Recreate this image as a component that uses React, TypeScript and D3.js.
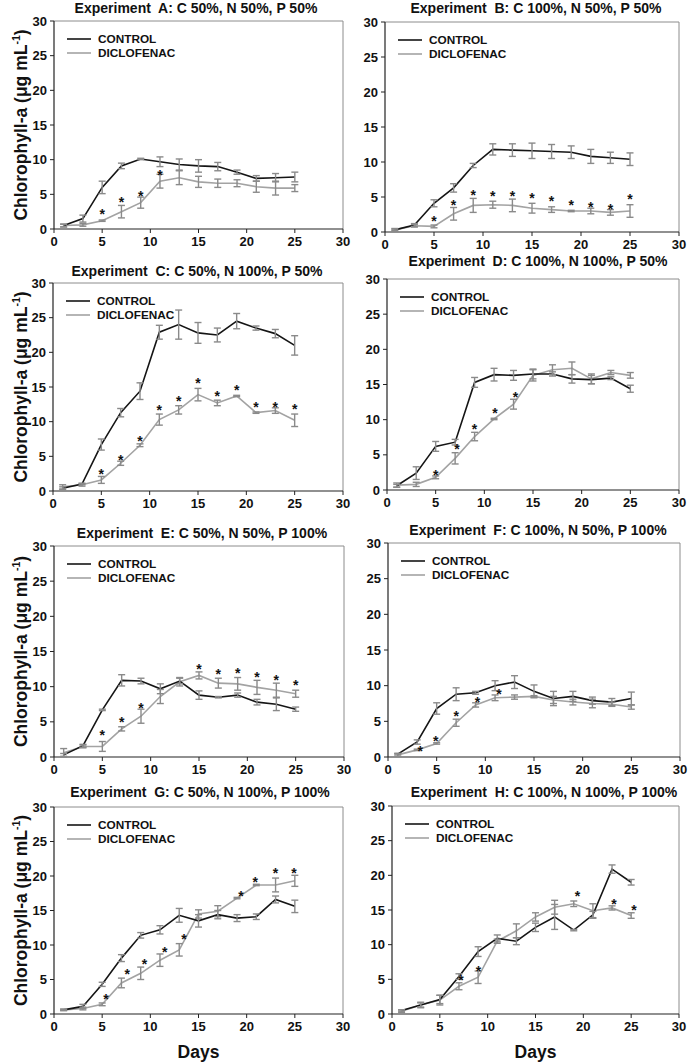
import React from "react";
import * as d3 from "d3";

const DAYS = [1, 3, 5, 7, 9, 11, 13, 15, 17, 19, 21, 23, 25];
const X_TICKS = [0, 5, 10, 15, 20, 25, 30];
const Y_TICKS = [0, 5, 10, 15, 20, 25, 30];
const SERIES_NAMES = ["CONTROL", "DICLOFENAC"];
const Y_LABEL = "Chlorophyll-a (μg mL";
const X_LABEL = "Days";

const TITLES = [
  "Experiment  A: C 50%, N 50%, P 50%",
  "Experiment  B: C 100%, N 50%, P 50%",
  "Experiment  C: C 50%, N 100%, P 50%",
  "Experiment  D: C 100%, N 100%, P 50%",
  "Experiment  E: C 50%, N 50%, P 100%",
  "Experiment  F: C 100%, N 50%, P 100%",
  "Experiment  G: C 50%, N 100%, P 100%",
  "Experiment  H: C 100%, N 100%, P 100%",
];

// A
const controlA = [0.5, 1.5, 6.0, 9.1, 10.1, 9.7, 9.3, 9.1, 9.0, 8.2, 7.3, 7.4, 7.5];
const controlAErr = [0.2, 0.5, 0.9, 0.4, 0.1, 0.7, 0.8, 0.9, 0.6, 0.3, 0.4, 0.6, 0.7];
const diclofenacA = [0.5, 0.6, 1.2, 2.5, 3.8, 6.9, 7.4, 6.8, 6.6, 6.6, 6.1, 5.9, 5.9];
const diclofenacAErr = [0.2, 0.2, 0.1, 0.9, 0.8, 1.0, 1.0, 0.8, 0.6, 0.5, 0.8, 1.0, 0.5];
const starsA = [[5, 2.6], [7, 4.3], [9, 5.2], [11, 8.2]];

// B
const controlB = [0.3, 1.0, 4.1, 6.3, 9.5, 11.8, 11.7, 11.6, 11.5, 11.4, 10.8, 10.6, 10.4];
const controlBErr = [0.1, 0.2, 0.5, 0.6, 0.3, 0.8, 0.9, 1.1, 1.0, 0.9, 1.0, 0.8, 0.9];
const diclofenacB = [0.3, 0.9, 0.8, 2.6, 3.8, 3.9, 3.8, 3.4, 3.2, 3.0, 3.0, 2.8, 3.0];
const diclofenacBErr = [0.2, 0.2, 0.2, 0.9, 1.0, 0.5, 0.9, 0.7, 0.4, 0.1, 0.4, 0.4, 0.9];
const starsB = [[5, 2.0], [7, 4.3], [9, 5.7], [11, 5.6], [13, 5.6], [15, 5.3], [17, 4.9], [19, 4.3], [21, 4.0], [23, 3.7], [25, 5.2]];

// C
const controlC = [0.4, 1.0, 6.7, 11.3, 14.4, 22.9, 24.0, 22.8, 22.5, 24.5, 23.5, 22.7, 21.0];
const controlCErr = [0.2, 0.1, 0.8, 0.6, 1.2, 1.0, 2.1, 1.5, 1.0, 1.1, 0.3, 0.6, 1.4];
const diclofenacC = [0.6, 0.9, 1.6, 4.0, 6.6, 10.3, 11.7, 13.9, 12.7, 13.7, 11.3, 11.6, 10.2];
const diclofenacCErr = [0.3, 0.2, 0.5, 0.3, 0.2, 0.8, 0.6, 0.9, 0.4, 0.1, 0.1, 0.4, 0.9];
const starsC = [[5, 2.85], [7, 4.9], [9, 7.7], [11, 12.1], [13, 13.4], [15, 16.0], [17, 14.2], [19, 15.0], [21, 12.5], [23, 12.6], [25, 12.3]];

// D
const controlD = [0.6, 2.4, 6.2, 6.8, 15.3, 16.4, 16.3, 16.5, 16.5, 15.8, 15.7, 15.9, 14.4];
const controlDErr = [0.2, 0.9, 0.7, 0.4, 0.7, 0.9, 0.7, 0.7, 0.3, 0.6, 0.6, 0.2, 0.5];
const diclofenacD = [0.7, 0.8, 1.8, 4.5, 7.6, 10.1, 12.2, 16.3, 17.1, 17.3, 15.8, 16.7, 16.3];
const diclofenacDErr = [0.3, 0.3, 0.2, 0.8, 0.6, 0.1, 0.7, 0.8, 0.7, 0.9, 0.7, 0.3, 0.4];
const starsD = [[5, 2.5], [7.2, 6.2], [9, 9.1], [11.1, 11.4], [13.2, 13.7]];

// E
const controlE = [0.3, 1.6, 6.7, 10.9, 10.8, 9.7, 10.8, 8.8, 8.5, 8.8, 7.8, 7.5, 6.8];
const controlEErr = [0.2, 0.2, 0.1, 0.8, 0.4, 0.7, 0.4, 0.6, 0.1, 0.3, 0.4, 0.9, 0.3];
const diclofenacE = [0.6, 1.5, 1.5, 4.0, 5.8, 8.6, 10.7, 11.6, 10.5, 10.4, 9.9, 9.5, 9.0];
const diclofenacEErr = [0.6, 0.2, 0.7, 0.3, 1.0, 1.0, 0.6, 0.5, 0.7, 0.9, 1.0, 1.0, 0.5];
const starsE = [[5, 3.5], [7, 5.45], [9, 7.45], [15, 13.0], [17, 12.2], [19, 12.4], [21, 11.75], [23, 11.4], [25, 10.7]];

// F
const controlF = [0.4, 2.1, 6.8, 8.8, 9.0, 10.0, 10.5, 9.2, 8.2, 8.5, 7.9, 7.7, 8.2];
const controlFErr = [0.1, 0.3, 0.8, 0.9, 0.2, 0.7, 0.9, 0.9, 1.0, 0.7, 0.5, 0.5, 0.9];
const diclofenacF = [0.3, 1.0, 1.9, 4.8, 7.3, 8.3, 8.4, 8.5, 8.0, 7.7, 7.5, 7.4, 7.0];
const diclofenacFErr = [0.2, 0.1, 0.1, 0.5, 0.3, 0.4, 0.3, 0.1, 0.5, 0.4, 0.6, 0.3, 0.3];
const starsF = [[3.3, 1.3], [4.9, 2.7], [7, 6.1], [9.2, 8.1], [11.4, 9.2]];

// G
const controlG = [0.6, 1.1, 4.3, 8.1, 11.4, 12.2, 14.3, 13.5, 14.4, 13.9, 14.1, 16.6, 15.6];
const controlGErr = [0.1, 0.3, 0.3, 0.5, 0.4, 0.6, 1.0, 0.9, 0.6, 0.5, 0.4, 0.5, 0.9];
const diclofenacG = [0.6, 0.8, 1.4, 4.5, 5.9, 7.8, 9.3, 14.5, 14.9, 16.8, 18.7, 18.7, 19.3];
const diclofenacGErr = [0.1, 0.2, 0.2, 0.7, 0.9, 0.9, 0.9, 0.6, 0.8, 0.1, 0.1, 1.0, 0.8];
const starsG = [[5.4, 2.55], [7.6, 6.2], [9.4, 7.7], [11.5, 9.4], [13.5, 11.3], [19.4, 17.5], [20.9, 19.6], [23, 20.9], [24.9, 20.9]];

// H
const controlH = [0.5, 1.3, 2.1, 5.4, 9.0, 10.9, 10.5, 12.5, 14.0, 12.1, 14.3, 20.9, 19.0];
const controlHErr = [0.1, 0.3, 0.6, 0.4, 0.7, 0.5, 0.5, 0.6, 1.8, 0.1, 0.5, 0.6, 0.4];
const diclofenacH = [0.4, 1.3, 2.0, 4.0, 5.3, 10.5, 12.0, 14.0, 15.4, 15.9, 14.9, 15.3, 14.2];
const diclofenacHErr = [0.2, 0.4, 0.7, 0.5, 0.9, 0.3, 1.0, 0.6, 1.0, 0.4, 1.0, 0.3, 0.4];
const starsH = [[7.2, 5.3], [9.05, 6.6], [19.4, 17.5], [23.2, 16.3], [25.3, 15.5]];

const PANEL_DATA = [
  { c: controlA, ce: controlAErr, d: diclofenacA, de: diclofenacAErr, s: starsA },
  { c: controlB, ce: controlBErr, d: diclofenacB, de: diclofenacBErr, s: starsB },
  { c: controlC, ce: controlCErr, d: diclofenacC, de: diclofenacCErr, s: starsC },
  { c: controlD, ce: controlDErr, d: diclofenacD, de: diclofenacDErr, s: starsD },
  { c: controlE, ce: controlEErr, d: diclofenacE, de: diclofenacEErr, s: starsE },
  { c: controlF, ce: controlFErr, d: diclofenacF, de: diclofenacFErr, s: starsF },
  { c: controlG, ce: controlGErr, d: diclofenacG, de: diclofenacGErr, s: starsG },
  { c: controlH, ce: controlHErr, d: diclofenacH, de: diclofenacHErr, s: starsH },
];

// layout (plot rectangles and title positions)
const LAYOUT = [
  { x0: 54, x1: 343, y0: 21, y1: 229, tx: 196, ty: 13 },
  { x0: 385, x1: 679, y0: 22, y1: 232, tx: 536, ty: 13 },
  { x0: 53, x1: 343, y0: 283, y1: 491, tx: 197, ty: 276 },
  { x0: 387, x1: 679, y0: 279, y1: 490, tx: 538, ty: 266 },
  { x0: 54, x1: 344, y0: 546, y1: 757, tx: 202, ty: 538 },
  { x0: 388, x1: 680, y0: 543, y1: 757, tx: 538, ty: 535 },
  { x0: 54, x1: 343, y0: 807, y1: 1014, tx: 200, ty: 797 },
  { x0: 392, x1: 679, y0: 806, y1: 1014, tx: 544, ty: 797 },
];

const FONT = "'Liberation Sans', Arial, Helvetica, sans-serif";
const CONTROL_COLOR = "#151515";
const DICLO_COLOR = "#a3a3a3";
const ERR_COLOR = "#8a8a8a";

function Panel({ idx }: { idx: number }) {
  const L = LAYOUT[idx];
  const D = PANEL_DATA[idx];
  const x = d3.scaleLinear().domain([0, 30]).range([L.x0, L.x1]);
  const y = d3.scaleLinear().domain([0, 30]).range([L.y1, L.y0]);
  const line = d3
    .line<number>()
    .x((_, i) => x(DAYS[i]))
    .y((v) => y(v));
  const isLeft = idx % 2 === 0;
  const isBottom = idx >= 6;
  const cap = 3.5;

  const errBars = (vals: number[], errs: number[], key: string) =>
    vals.map((v, i) => {
      const cx = x(DAYS[i]);
      const top = y(v + errs[i]);
      const bot = y(Math.max(0, v - errs[i]));
      return (
        <g key={key + i} stroke={ERR_COLOR} strokeWidth={1.4}>
          <line x1={cx} x2={cx} y1={top} y2={bot} />
          <line x1={cx - cap} x2={cx + cap} y1={top} y2={top} />
          <line x1={cx - cap} x2={cx + cap} y1={bot} y2={bot} />
        </g>
      );
    });

  return (
    <g>
      {/* frame */}
      <line x1={L.x0} x2={L.x1} y1={L.y0} y2={L.y0} stroke="#8c8c8c" strokeWidth={1} />
      <line x1={L.x1} x2={L.x1} y1={L.y0} y2={L.y1} stroke="#8c8c8c" strokeWidth={1} />
      {/* title */}
      <text
        x={L.tx}
        y={L.ty}
        textAnchor="middle"
        fontFamily={FONT}
        fontWeight="bold"
        fontSize={14}
        fill="#111"
        style={{ whiteSpace: "pre" }}
      >
        {TITLES[idx]}
      </text>
      {/* axes */}
      <line x1={L.x0} x2={L.x0} y1={L.y0} y2={L.y1} stroke="#222" strokeWidth={1.2} />
      <line x1={L.x0} x2={L.x1} y1={L.y1} y2={L.y1} stroke="#222" strokeWidth={1.2} />
      {Y_TICKS.map((t) => (
        <g key={"yt" + t}>
          <line x1={L.x0 - 4} x2={L.x0} y1={y(t)} y2={y(t)} stroke="#222" strokeWidth={1} />
          <text x={L.x0 - 7} y={y(t) + 4.5} textAnchor="end" fontFamily={FONT} fontWeight="bold" fontSize={13} fill="#111">
            {t}
          </text>
        </g>
      ))}
      {X_TICKS.map((t) => (
        <g key={"xt" + t}>
          <line x1={x(t)} x2={x(t)} y1={L.y1} y2={L.y1 + 4} stroke="#222" strokeWidth={1} />
          <text x={x(t)} y={L.y1 + 17} textAnchor="middle" fontFamily={FONT} fontWeight="bold" fontSize={13} fill="#111">
            {t}
          </text>
        </g>
      ))}
      {/* legend */}
      <line x1={L.x0 + 13} x2={L.x0 + 37} y1={L.y0 + 18} y2={L.y0 + 18} stroke={CONTROL_COLOR} strokeWidth={1.6} />
      <text x={L.x0 + 44} y={L.y0 + 22} fontFamily={FONT} fontWeight="bold" fontSize={11.8} fill="#111">
        {SERIES_NAMES[0]}
      </text>
      <line x1={L.x0 + 13} x2={L.x0 + 37} y1={L.y0 + 32} y2={L.y0 + 32} stroke={DICLO_COLOR} strokeWidth={1.6} />
      <text x={L.x0 + 44} y={L.y0 + 36} fontFamily={FONT} fontWeight="bold" fontSize={11.8} fill="#111">
        {SERIES_NAMES[1]}
      </text>
      {/* lines */}
      <path d={line(D.d) || ""} fill="none" stroke={DICLO_COLOR} strokeWidth={1.6} />
      <path d={line(D.c) || ""} fill="none" stroke={CONTROL_COLOR} strokeWidth={1.6} />
      {errBars(D.c, D.ce, "ce")}
      {errBars(D.d, D.de, "de")}
      {/* significance stars */}
      {D.s.map(([sx, sy], i) => (
        <text key={"s" + i} x={x(sx)} y={y(sy) + 8} textAnchor="middle" fontFamily={FONT} fontWeight="bold" fontSize={14} fill="#111">
          *
        </text>
      ))}
      {isLeft && (
        <text
          transform={`translate(${21},${(L.y0 + L.y1) / 2}) rotate(-90)`}
          textAnchor="middle"
          fontFamily={FONT}
          fontWeight="bold"
          fontSize={17.5}
          fill="#111"
          dy={6}
        >
          {Y_LABEL}
          <tspan fontSize={10.5} dy={-7}>-1</tspan>
          <tspan dy={7}>)</tspan>
        </text>
      )}
      {isBottom && (
        <text x={(L.x0 + L.x1) / 2} y={1058} textAnchor="middle" fontFamily={FONT} fontWeight="bold" fontSize={17.5} fill="#111">
          {X_LABEL}
        </text>
      )}
    </g>
  );
}

export default function App() {
  return (
    <svg
      width={689}
      height={1062}
      viewBox="0 0 689 1062"
      style={{ position: "absolute", left: 0, top: 0, background: "#fff" }}
    >
      <rect x={0} y={0} width={689} height={1062} fill="#fff" />
      {LAYOUT.map((_, i) => (
        <Panel key={i} idx={i} />
      ))}
    </svg>
  );
}
